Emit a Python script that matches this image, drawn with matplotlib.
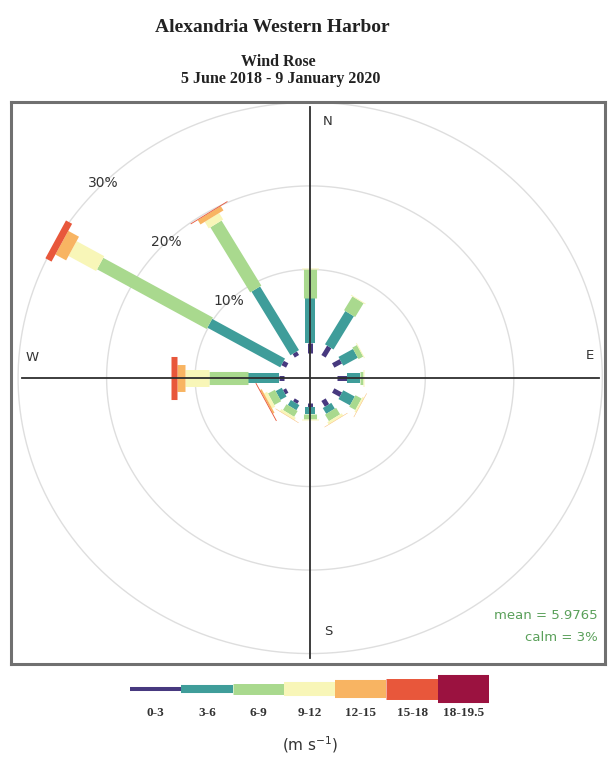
import numpy as np
import matplotlib
matplotlib.use("Agg")
from matplotlib import pyplot as plt

# direcoes (graus) e frequencia (%) por classe de velocidade
direcoes = [0, 30, 60, 90, 120, 150, 180, 210, 240, 270, 300, 330]
freq_0_3 = [1.2, 1.3, 1.0, 1.2, 1.0, 0.8, 0.5, 0.4, 0.4, 0.5, 0.6, 0.5]
freq_3_6 = [5.4, 4.6, 1.9, 1.4, 1.5, 0.8, 0.8, 0.7, 0.8, 3.5, 9.5, 8.8]
freq_6_9 = [3.4, 1.9, 0.6, 0.4, 0.8, 0.9, 0.6, 0.8, 0.9, 4.4, 14.3, 9.0]
freq_9_12 = [0.2, 0.1, 0.1, 0.1, 0.2, 0.3, 0.1, 0.3, 0.4, 2.7, 3.6, 0.9]
freq_12_15 = [0, 0, 0, 0, 0.05, 0.05, 0, 0.05, 0.2, 0.9, 1.4, 0.6]
freq_15_18 = [0, 0, 0, 0, 0, 0, 0, 0, 0.1, 0.7, 0.8, 0.1]
freq_18_195 = [0, 0, 0, 0, 0, 0, 0, 0, 0, 0, 0, 0]

classes = ["0-3", "3-6", "6-9", "9-12", "12-15", "15-18", "18-19.5"]
cores = ["#47397f", "#3f9d9a", "#a9d98e", "#f8f6b8", "#f8b462", "#e8573b", "#9b1240"]
larg_rosa = [3.6, 7.2, 9.4, 12.2, 19.4, 31, 36]
larg_leg = [2.9, 5.8, 7.9, 10.1, 13, 15.1, 20.2]

aneis = [10, 20, 30]
offset = 3  # raio do calmo
media = 5.9765
calmo = 3

freqs = [freq_0_3, freq_3_6, freq_6_9, freq_9_12, freq_12_15, freq_15_18, freq_18_195]

fig = plt.figure(figsize=(6.09, 7.58), dpi=100)
fig.patch.set_facecolor("white")

ax = fig.add_axes([11 / 609, 1 - 664 / 758, 594 / 609, 562 / 758])
ax.set_xlim(-33.8, 33.3)
ax.set_ylim(-34.25, 33.05)
ax.set_xticks([])
ax.set_yticks([])
for s in ax.spines.values():
    s.set_color("#707070")
    s.set_linewidth(2.2)

# circulos de referencia
t = np.linspace(0, 2 * np.pi, 400)
for a in aneis:
    r = a + offset
    ax.plot(r * np.sin(t), r * np.cos(t), color="#dedede", lw=1.0, zorder=1)
    ax.text(-r * np.sin(np.pi / 4), r * np.cos(np.pi / 4), "%d%%" % a,
            ha="center", va="center", fontsize=10, color="#333333", zorder=5)

# barras (paddles) por direcao
for j, d in enumerate(direcoes):
    ang = np.radians(d)
    acum = 0.0
    for i in range(len(classes)):
        v = freqs[i][j]
        if v <= 0:
            continue
        r0 = offset + acum
        r1 = offset + acum + v
        ax.plot([r0 * np.sin(ang), r1 * np.sin(ang)], [r0 * np.cos(ang), r1 * np.cos(ang)],
                color=cores[i], lw=larg_rosa[i], solid_capstyle="butt", zorder=3)
        acum += v

# eixos cruzados
ax.plot([-32.6, 32.6], [0, 0], color="#2e2e2e", lw=1.3, zorder=4)
ax.plot([0, 0], [-33.5, 32.5], color="#2e2e2e", lw=1.3, zorder=4)

ax.text(2.0, 30.7, "N", ha="center", va="center", fontsize=9.5, color="#333333")
ax.text(31.6, 2.7, "E", ha="center", va="center", fontsize=9.5, color="#333333")
ax.text(2.0, -30.4, "S", ha="center", va="center", fontsize=9.5, color="#333333")
ax.text(-31.4, 2.5, "W", ha="center", va="center", fontsize=9.5, color="#333333")

ax.text(0.987, 0.087, "mean = %.4f" % media, transform=ax.transAxes, ha="right",
        va="center", fontsize=9.5, color="#5aa05a")
ax.text(0.987, 0.048, "calm = %d%%" % calmo, transform=ax.transAxes, ha="right",
        va="center", fontsize=9.5, color="#5aa05a")

# titulos
fig.text(272 / 609, 1 - 28 / 758, "Alexandria Western Harbor", ha="center", va="center",
         fontsize=14, fontweight="bold", family="Liberation Serif", color="#222222")
fig.text(278 / 609, 1 - 62 / 758, "Wind Rose", ha="center", va="center",
         fontsize=11.5, fontweight="bold", family="Liberation Serif", color="#222222")
fig.text(281 / 609, 1 - 79 / 758, "5 June 2018 - 9 January 2020", ha="center", va="center",
         fontsize=11.5, fontweight="bold", family="Liberation Serif", color="#222222")

# legenda de cores
lax = fig.add_axes([130 / 609, 1 - 709 / 758, 359 / 609, 40 / 758])
lax.set_xlim(0, 7)
lax.set_ylim(-1, 1)
lax.axis("off")
for i in range(len(classes)):
    lax.plot([i, i + 1], [0, 0], color=cores[i], lw=larg_leg[i], solid_capstyle="butt")
    fig.text((130 + 51.3 * (i + 0.5)) / 609, 1 - 713 / 758, classes[i], ha="center",
             va="center", fontsize=9.5, fontweight="bold", family="Liberation Serif",
             color="#333333")
fig.text(310 / 609, 1 - 745 / 758, "(m s$^{-1}$)", ha="center", va="center",
         fontsize=11, color="#333333")

fig.savefig("out.png", dpi=100)
